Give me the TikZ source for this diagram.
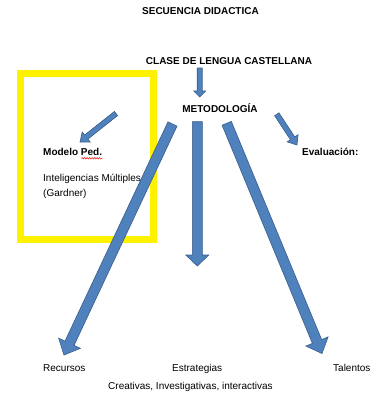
\documentclass[tikz,border=0pt]{standalone}
\usepackage{fontspec}
\setmainfont{Liberation Sans}
\usetikzlibrary{calc,decorations.pathmorphing}
\definecolor{arrfill}{HTML}{4F81BD}
\definecolor{arrline}{HTML}{385D8A}
\definecolor{hilite}{HTML}{FFF200}
\tikzset{
  txt/.style={inner sep=0pt, anchor=base west, font=\fontsize{10}{12}\selectfont},
  btxt/.style={txt, font=\fontsize{10}{12}\selectfont\bfseries},
  barrow/.style={fill=arrfill, draw=arrline, line width=0.6pt, line join=miter},
  hlbox/.style={draw=hilite, line width=7pt},
  spell/.style={draw=red, line width=0.5pt, decorate, decoration={snake, amplitude=0.7pt, segment length=2.5pt}}
}
% #1 tail, #2 tip, #3 half shaft width, #4 half head width, #5 head length
\newcommand\blockarr[5]{%
  \coordinate (ba-h) at ($(#2)!#5!(#1)$);
  \draw[barrow] ($(#1)!#3!90:(#2)$) -- ($(ba-h)!#3!-90:(#1)$) -- ($(ba-h)!#4!-90:(#1)$)
    -- (#2) -- ($(ba-h)!#4!90:(#1)$) -- ($(ba-h)!#3!90:(#1)$) -- ($(#1)!#3!-90:(#2)$) -- cycle;}
\begin{document}
\begin{tikzpicture}[x=1pt,y=-1pt]
\useasboundingbox[fill=white] (0,0) rectangle (380,394);

% highlight box
\draw[hlbox] (20.5,73.5) rectangle (153.5,239.5);

% texts
\node[btxt, anchor=base] (title) at (200.5,14.6) {SECUENCIA DIDACTICA};
\node[btxt, anchor=base] (clase) at (229,64.5) {CLASE DE LENGUA CASTELLANA};
\node[btxt, anchor=base] (metodo) at (220,112) {METODOLOG\'IA};
\node[btxt] (modelo) at (43,155.5) {Modelo Ped.};
\node[txt] (intel) at (43,181) {Inteligencias M\'ultiples};
\node[txt] (gard) at (43,196) {(Gardner)};
\node[btxt] (eval) at (302,155.5) {Evaluaci\'on:};
\node[txt] (rec) at (43,371) {Recursos};
\node[txt] (estr) at (172,371) {Estrategias};
\node[txt] (tal) at (333,371) {Talentos};
\node[txt] (crea) at (108,389) {Creativas, Investigativas, interactivas};

% spell-check underline
\draw[spell] ($(modelo.base east)+(-21,2.8)$) -- ($(modelo.base east)+(0,2.8)$);

% arrow end points
\coordinate (a1s) at (199.7,68);
\coordinate (a1e) at (199.7,97);
\coordinate (a2s) at (116,113.5);
\coordinate (a2e) at (80,142);
\coordinate (a3s) at (172.5,124);
\coordinate (a3e) at (64,355);
\coordinate (a4s) at (197.3,121.7);
\coordinate (a4e) at (197.3,266);
\coordinate (a5s) at (226.7,123.3);
\coordinate (a5e) at (322,353.5);
\coordinate (a6s) at (276.8,114.3);
\coordinate (a6e) at (297,145);

% arrows
\blockarr{a1s}{a1e}{2.5pt}{6pt}{6pt}
\blockarr{a2s}{a2e}{2.6pt}{6.5pt}{8pt}
\blockarr{a3s}{a3e}{5pt}{12pt}{13pt}
\blockarr{a4s}{a4e}{5pt}{11.5pt}{11pt}
\blockarr{a5s}{a5e}{5pt}{12pt}{13pt}
\blockarr{a6s}{a6e}{2.6pt}{6.5pt}{8pt}
\end{tikzpicture}
\end{document}
